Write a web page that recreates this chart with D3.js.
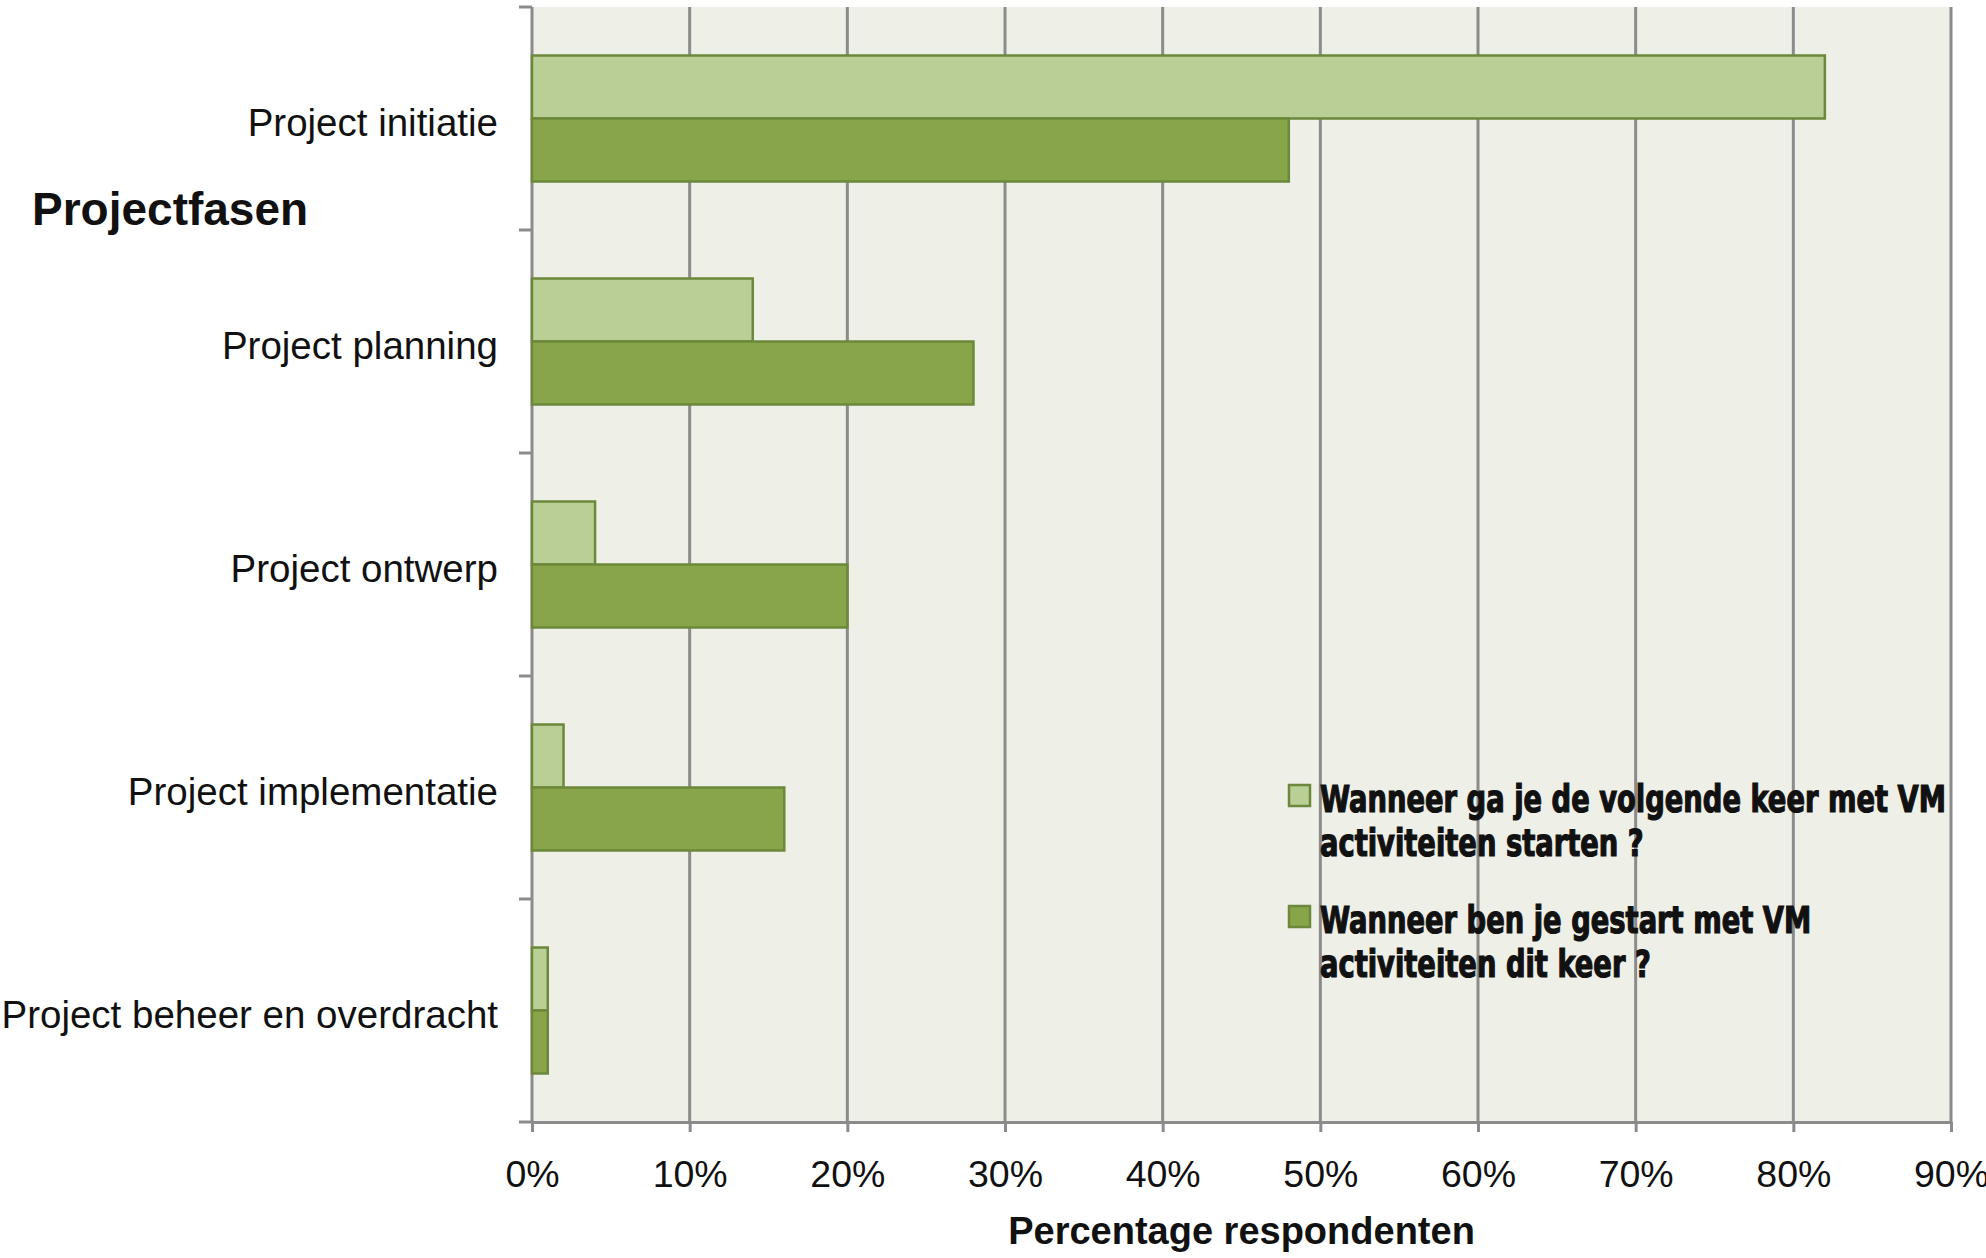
<!DOCTYPE html>
<html>
<head>
<meta charset="utf-8">
<script src="https://cdn.jsdelivr.net/npm/d3@7"></script>
<style>
  body { margin: 0; background: #fff; }
  svg text { font-family: "Liberation Sans", Arial, sans-serif; fill: #111; }
</style>
</head>
<body>
<svg id="chart" width="1986" height="1258"></svg>
<script>
// data (fractions)
const categories   = ["Project initiatie", "Project planning", "Project ontwerp", "Project implementatie", "Project beheer en overdracht"];
const nextStart    = [0.82, 0.14, 0.04, 0.02, 0.01];
const startedNow   = [0.48, 0.28, 0.20, 0.16, 0.01];
const seriesKeys   = ["next", "now"];
const legendLines  = [
  ["Wanneer ga je de volgende keer met VM", "activiteiten starten ?"],
  ["Wanneer ben je gestart met VM", "activiteiten dit keer ?"]
];
const xTicks       = [0, 0.1, 0.2, 0.3, 0.4, 0.5, 0.6, 0.7, 0.8, 0.9];

const colors = {next: "#b9cf95", now: "#88a54a"};
const stroke = "#6c883a";
const grid   = "#8b8b8b";

const plotLeft = 532, plotRight = 1951, plotTop = 7, plotBottom = 1122;

const svg = d3.select("#chart");

const x  = d3.scaleLinear().domain([0, 0.9]).range([plotLeft, plotRight]);
const y  = d3.scaleBand().domain(categories).range([plotTop, plotBottom]);
const y1 = d3.scaleBand().domain(seriesKeys).range([0, y.bandwidth()]).paddingInner(0).paddingOuter(0.77);

const rows = categories.map((c, i) => ({cat: c, next: nextStart[i], now: startedNow[i]}));

// plot background
svg.append("rect")
  .attr("x", plotLeft).attr("y", plotTop)
  .attr("width", plotRight - plotLeft).attr("height", plotBottom - plotTop)
  .attr("fill", "#eef0e8");

// vertical gridlines
svg.append("g").selectAll("line").data(xTicks.slice(1)).join("line")
  .attr("x1", d => x(d)).attr("x2", d => x(d))
  .attr("y1", plotTop).attr("y2", plotBottom)
  .attr("stroke", grid).attr("stroke-width", 3);

// x axis
const xAxis = svg.append("g")
  .attr("transform", `translate(0,${plotBottom})`)
  .call(d3.axisBottom(x).tickValues(xTicks).tickFormat(d3.format(".0%")).tickSize(10).tickSizeOuter(0).tickPadding(28));
xAxis.selectAll("path, line").attr("stroke", grid).attr("stroke-width", 3);
xAxis.selectAll("text").attr("font-size", 37.5).style("font-family", "'Liberation Sans', Arial, sans-serif").attr("fill", "#111");

// y axis labels
const yAxis = svg.append("g")
  .attr("transform", `translate(${plotLeft},0)`)
  .call(d3.axisLeft(y).tickSize(0).tickPadding(34));
yAxis.select(".domain").remove();
yAxis.selectAll("text").attr("font-size", 38.5).attr("dy", "0.45em")
  .style("font-family", "'Liberation Sans', Arial, sans-serif").attr("fill", "#111");

// y axis line + ticks at category boundaries
const bounds = categories.map(c => y(c)).concat([plotBottom]);
svg.append("line")
  .attr("x1", plotLeft).attr("x2", plotLeft).attr("y1", plotTop).attr("y2", plotBottom)
  .attr("stroke", grid).attr("stroke-width", 3);
svg.append("g").selectAll("line").data(bounds).join("line")
  .attr("x1", plotLeft - 13).attr("x2", plotLeft)
  .attr("y1", d => d).attr("y2", d => d)
  .attr("stroke", grid).attr("stroke-width", 3);

// bars
svg.append("g").selectAll("g").data(rows).join("g")
  .attr("transform", d => `translate(0,${y(d.cat)})`)
  .selectAll("rect")
  .data(d => seriesKeys.map(k => ({key: k, value: d[k]})))
  .join("rect")
  .attr("x", x(0))
  .attr("y", d => y1(d.key))
  .attr("width", d => x(d.value) - x(0))
  .attr("height", y1.bandwidth())
  .attr("fill", d => colors[d.key])
  .attr("stroke", stroke)
  .attr("stroke-width", 2.5);

// axis titles
svg.append("text")
  .attr("x", (plotLeft + plotRight) / 2).attr("y", 1244)
  .attr("text-anchor", "middle")
  .attr("font-size", 38).attr("font-weight", "bold")
  .text("Percentage respondenten");

svg.append("text")
  .attr("x", 32).attr("y", 225)
  .attr("font-size", 46).attr("font-weight", "bold")
  .text("Projectfasen");

// legend
const legend = svg.append("g").attr("transform", "translate(1289,785)");
const legendItems = legend.selectAll("g").data(seriesKeys).join("g")
  .attr("transform", (d, i) => `translate(0,${i * 121})`);
legendItems.append("rect")
  .attr("width", 21).attr("height", 21)
  .attr("fill", d => colors[d])
  .attr("stroke", stroke).attr("stroke-width", 2.5);
const legendText = legendItems.append("text")
  .attr("x", 31).attr("y", 27)
  .attr("font-size", 37).attr("font-weight", "bold")
  .attr("stroke", "#111").attr("stroke-width", 1.2)
  .style("font-family", "'DejaVu Sans Condensed', 'Liberation Sans Narrow', sans-serif");
legendText.selectAll("tspan").data((d, i) => legendLines[i]).join("tspan")
  .attr("x", 31).attr("dy", (d, j) => j === 0 ? 0 : 44)
  .text(d => d);

// squeeze the legend lines so the first one spans the same width as in the picture
const first = legendText.select("tspan").node();
const squeeze = 626 / first.getComputedTextLength();
legendText.selectAll("tspan").each(function () {
  const w = this.getComputedTextLength();
  d3.select(this).attr("textLength", w * squeeze).attr("lengthAdjust", "spacingAndGlyphs");
});
</script>
</body>
</html>
